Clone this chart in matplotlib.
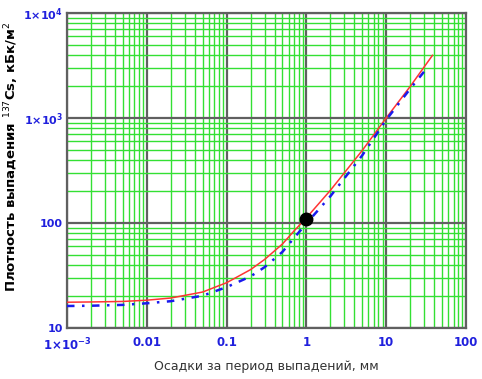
import matplotlib.pyplot as plt
from matplotlib.ticker import FixedLocator, LogLocator, NullFormatter

# values
red_x = [0.001, 0.002, 0.005, 0.01, 0.02, 0.05, 0.1, 0.2, 0.3, 0.5, 0.7, 1, 2, 5, 10, 20, 38]
red_y = [17.6, 17.7, 17.9, 18.4, 19.3, 22, 27, 36, 45, 63, 84, 112, 205, 490, 1000, 2000, 3950]

blue_x = [0.001, 0.002, 0.005, 0.01, 0.02, 0.05, 0.1, 0.2, 0.3, 0.5, 0.7, 1, 2, 5, 10, 20, 32]
blue_y = [16.2, 16.3, 16.6, 17.2, 18, 20.3, 24.5, 31, 38, 53, 72, 99, 180, 440, 960, 1900, 2950]

dot_x = [1]
dot_y = [110]

x_ticks = [0.001, 0.01, 0.1, 1, 10, 100]
x_labels = [r'$\mathbf{1{\times}10^{-3}}$', '0.01', '0.1', '1', '10', '100']
y_ticks = [10, 100, 1000, 10000]
y_labels = ['10', '100', r'$\mathbf{1{\times}10^{3}}$', r'$\mathbf{1{\times}10^{4}}$']

fig = plt.figure(figsize=(4.82, 3.79), dpi=100)
ax = fig.add_axes([67 / 482, 51 / 379, 399 / 482, 315 / 379])
ax.set_xscale('log')
ax.set_yscale('log')
ax.set_xlim(1e-3, 100)
ax.set_ylim(10, 1e4)

ax.xaxis.set_minor_locator(LogLocator(base=10, subs=range(2, 10), numticks=20))
ax.yaxis.set_minor_locator(LogLocator(base=10, subs=range(2, 10), numticks=20))
ax.xaxis.set_minor_formatter(NullFormatter())
ax.yaxis.set_minor_formatter(NullFormatter())
ax.grid(which='minor', color='#33e033', lw=1.0)
ax.grid(which='major', color='#606060', lw=1.6)
ax.set_axisbelow(True)

ax.plot(red_x, red_y, color='#ff3333', lw=1.1, zorder=3)
ax.plot(blue_x, blue_y, color='#1a1aee', lw=1.8, ls=(0, (3, 3, 1, 3)), zorder=4)
ax.plot(dot_x, dot_y, 'o', color='black', ms=9, zorder=5)

ax.xaxis.set_major_locator(FixedLocator(x_ticks))
ax.yaxis.set_major_locator(FixedLocator(y_ticks))
ax.set_xticklabels(x_labels, color='#2020dd', fontweight='bold', fontsize=8.5)
ax.set_yticklabels(y_labels, color='#2020dd', fontweight='bold', fontsize=8)
ax.tick_params(axis='x', length=0, pad=6)
ax.tick_params(axis='y', length=0, pad=3)
ax.tick_params(which='minor', length=0)

for s in ax.spines.values():
    s.set_color('#606060')
    s.set_linewidth(1.6)

ax.set_xlabel('Осадки за период выпадений, мм', fontsize=9, color='#333333', labelpad=5)
fig.text(12 / 482, 0.585, r'Плотность выпадения $^{137}$Cs, кБк/м$^{2}$',
         rotation=90, ha='center', va='center', fontsize=9.5, fontweight='bold',
         color='black')

fig.savefig('out.png', dpi=100)
